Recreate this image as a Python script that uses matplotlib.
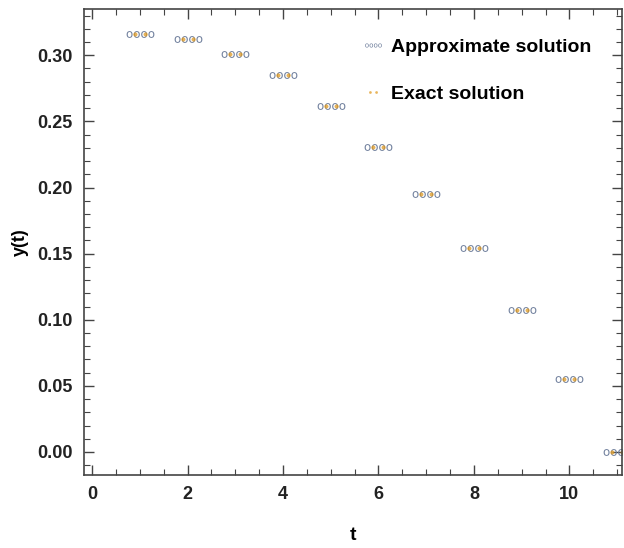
import matplotlib.pyplot as plt
from matplotlib.ticker import MultipleLocator

# data
t = [1, 2, 3, 4, 5, 6, 7, 8, 9, 10, 11]
approx = [0.316, 0.312, 0.301, 0.285, 0.262, 0.231, 0.195, 0.154, 0.107, 0.055, 0.0]
exact = [0.316, 0.312, 0.301, 0.285, 0.262, 0.231, 0.195, 0.154, 0.107, 0.055, 0.0]

plt.rcParams['font.family'] = ['Liberation Sans', 'DejaVu Sans']

fig = plt.figure(figsize=(6.24, 5.48), dpi=100)
ax = fig.add_axes([0.1346, 0.1332, 0.862, 0.8504])

ax.plot(t, approx, linestyle='none', marker=r'$\mathrm{oooo}$', markersize=20,
        markeredgewidth=0, color='#6f7f9c', label='Approximate solution')
ax.plot(t, exact, linestyle='none', marker=r'$\bullet\bullet$', markersize=10,
        markeredgewidth=0.3, color='#E19C24', alpha=0.75, label='Exact solution')

ax.set_xlim(-0.17, 11.1)
ax.set_ylim(-0.0174, 0.335)
ax.xaxis.set_major_locator(MultipleLocator(2))
ax.xaxis.set_minor_locator(MultipleLocator(0.5))
ax.yaxis.set_major_locator(MultipleLocator(0.05))
ax.yaxis.set_minor_locator(MultipleLocator(0.01))
ax.yaxis.set_major_formatter(plt.FormatStrFormatter('%.2f'))

ax.tick_params(which='both', direction='in', top=True, right=True, colors='#444444',
               labelcolor='#222222')
ax.tick_params(which='major', length=7, width=1, labelsize=13, pad=8)
ax.tick_params(which='minor', length=4, width=0.8)
for lab in ax.get_xticklabels() + ax.get_yticklabels():
    lab.set_fontweight('bold')
for s in ax.spines.values():
    s.set_color('#444444')
    s.set_linewidth(1.2)

ax.set_xlabel('t', fontsize=14, fontweight='bold', labelpad=17)
ax.set_ylabel('y(t)', fontsize=13, fontweight='bold', labelpad=6)

leg = ax.legend(loc='upper right', bbox_to_anchor=(0.975, 0.975), frameon=False,
                prop={'size': 14, 'weight': 'bold'}, handletextpad=0.3,
                handlelength=1.2, labelspacing=1.5, markerscale=0.6)

fig.savefig('out.png', dpi=100)
